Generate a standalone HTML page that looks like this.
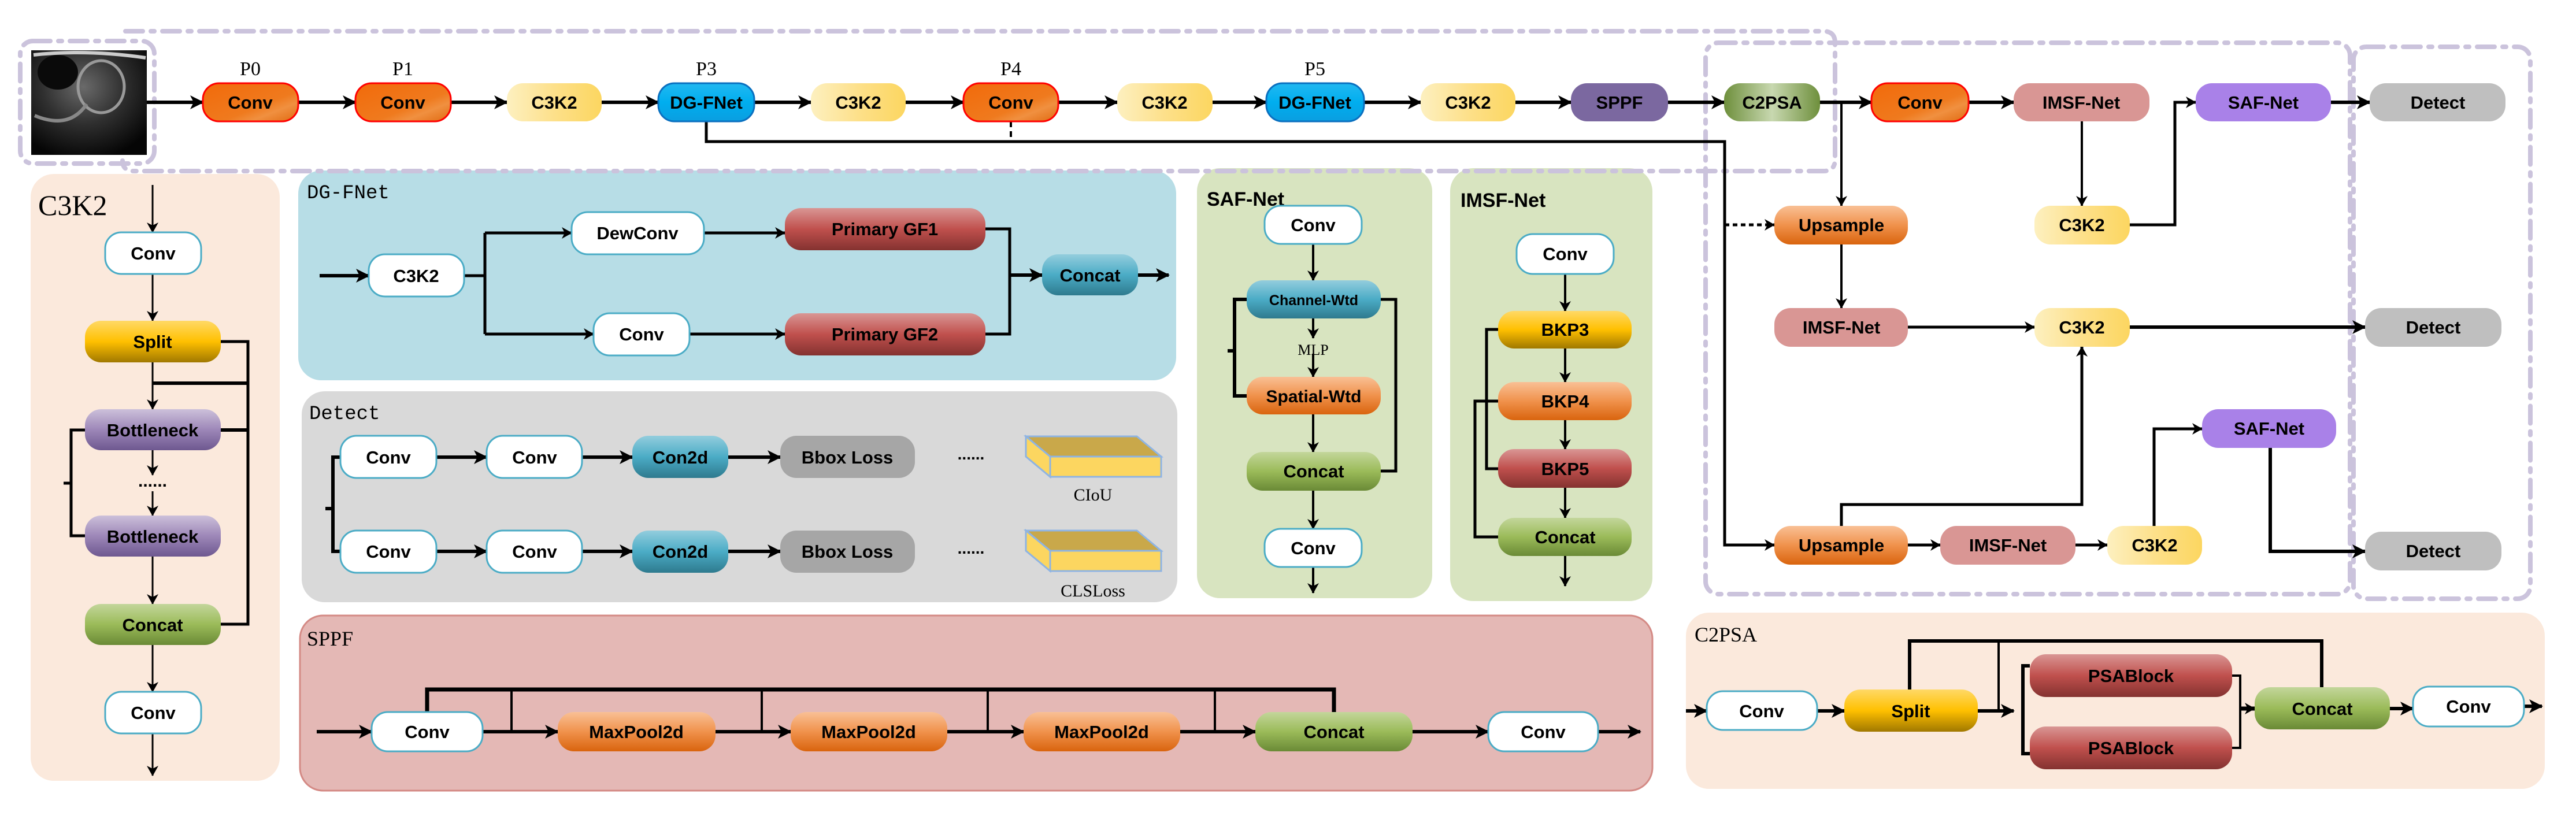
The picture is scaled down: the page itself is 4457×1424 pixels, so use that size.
<!DOCTYPE html>
<html><head><meta charset="utf-8"><style>
html,body{margin:0;padding:0;background:#fff;}
svg{display:block;}
text{font-family:"Liberation Sans",sans-serif;font-weight:bold;font-size:31px;text-anchor:middle;fill:#000;}
.t{font-family:"Liberation Serif",serif;font-weight:normal;font-size:36px;text-anchor:start;}
.m{font-family:"Liberation Mono",monospace;font-weight:normal;font-size:34px;text-anchor:start;}
.p{font-family:"Liberation Serif",serif;font-weight:normal;font-size:34px;}
.l{fill:none;stroke:#000;stroke-width:4;}
.L{fill:none;stroke:#000;stroke-width:7;}
.d{fill:none;stroke:#cbc3dc;stroke-width:8;stroke-dasharray:30 14 6 14;stroke-linecap:round;}
</style></head><body>
<svg width="4457" height="1424" viewBox="0 0 4457 1424" xmlns="http://www.w3.org/2000/svg">
<defs>
<marker id="a" markerWidth="24" markerHeight="24" refX="22" refY="12" orient="auto" markerUnits="userSpaceOnUse"><path d="M0,0 L24,12 L0,24 L6,12z"/></marker>
<marker id="s" markerWidth="18" markerHeight="20" refX="17" refY="10" orient="auto" markerUnits="userSpaceOnUse"><path d="M0,0 L18,10 L0,20 L5,10z"/></marker>
<linearGradient id="gConv" x1="0" y1="0" x2="1" y2="1"><stop offset="0" stop-color="#f26a0a"/><stop offset="0.6" stop-color="#ef7a1e"/><stop offset="0.75" stop-color="#f09040"/><stop offset="1" stop-color="#e06a10"/></linearGradient>
<linearGradient id="gY" x1="0" y1="0" x2="1" y2="0"><stop offset="0" stop-color="#fdf0c0"/><stop offset="0.5" stop-color="#fde08a"/><stop offset="1" stop-color="#fcd660"/></linearGradient>
<linearGradient id="gB" x1="0" y1="0" x2="0" y2="1"><stop offset="0" stop-color="#22b8f0"/><stop offset="0.5" stop-color="#00aeef"/><stop offset="1" stop-color="#0a9ee0"/></linearGradient>
<linearGradient id="gC2" x1="0" y1="0" x2="1" y2="0"><stop offset="0" stop-color="#6e8f3c"/><stop offset="0.5" stop-color="#c8d8b0"/><stop offset="1" stop-color="#6e8f3c"/></linearGradient>
<linearGradient id="gUp" x1="0" y1="0" x2="0" y2="1"><stop offset="0" stop-color="#f9c095"/><stop offset="0.5" stop-color="#f0924c"/><stop offset="1" stop-color="#d9640e"/></linearGradient>
<linearGradient id="gR" x1="0" y1="0" x2="0" y2="1"><stop offset="0" stop-color="#d99694"/><stop offset="0.5" stop-color="#c0504d"/><stop offset="1" stop-color="#843230"/></linearGradient>
<linearGradient id="gG" x1="0" y1="0" x2="0" y2="1"><stop offset="0" stop-color="#c3d69b"/><stop offset="0.5" stop-color="#9bbb59"/><stop offset="1" stop-color="#6a8a36"/></linearGradient>
<linearGradient id="gT" x1="0" y1="0" x2="0" y2="1"><stop offset="0" stop-color="#93cddd"/><stop offset="0.5" stop-color="#4bacc6"/><stop offset="1" stop-color="#2e7a8e"/></linearGradient>
<linearGradient id="gS" x1="0" y1="0" x2="0" y2="1"><stop offset="0" stop-color="#ffd966"/><stop offset="0.5" stop-color="#ffc000"/><stop offset="1" stop-color="#a07800"/></linearGradient>
<linearGradient id="gP" x1="0" y1="0" x2="0" y2="1"><stop offset="0" stop-color="#ccc0da"/><stop offset="0.5" stop-color="#9d87b8"/><stop offset="1" stop-color="#6e5890"/></linearGradient>
<radialGradient id="gImg" cx="0.45" cy="0.35" r="0.7"><stop offset="0" stop-color="#6a6a6a"/><stop offset="0.5" stop-color="#303030"/><stop offset="1" stop-color="#050505"/></radialGradient>
</defs>

<!-- panels -->
<rect x="53" y="301" width="431" height="1050" rx="40" fill="#fbe9dc"/>
<rect x="516" y="295" width="1519" height="363" rx="40" fill="#b7dde6"/>
<rect x="522" y="677" width="1515" height="365" rx="40" fill="#d9d9d9"/>
<rect x="519" y="1065" width="2340" height="303" rx="40" fill="#e4b8b5" stroke="#d48a85" stroke-width="3"/>
<rect x="2071" y="291" width="407" height="744" rx="40" fill="#d8e4c0"/>
<rect x="2509" y="291" width="350" height="749" rx="40" fill="#d8e4c0"/>
<rect x="2917" y="1060" width="1486" height="305" rx="40" fill="#fbe9dc"/>

<!-- dashed boxes -->
<rect x="35" y="71" width="232" height="212" rx="22" class="d"/>
<path d="M217,54 H3155 Q3175,54 3175,74 V276 Q3175,296 3155,296 H232 Q212,296 212,278" class="d"/>
<rect x="2951" y="74" width="1115" height="954" rx="22" class="d"/>
<rect x="4072" y="81" width="306" height="955" rx="22" class="d"/>

<!-- image -->
<rect x="54" y="87" width="200" height="181" fill="url(#gImg)"/>
<ellipse cx="175" cy="150" rx="40" ry="45" fill="none" stroke="#999" stroke-width="5"/>
<ellipse cx="100" cy="125" rx="35" ry="30" fill="#0a0a0a"/>
<path d="M58,95 Q150,85 252,100" stroke="#ccc" stroke-width="6" fill="none"/>
<path d="M60,200 Q120,225 150,180" stroke="#888" stroke-width="6" fill="none"/>

<!-- Labels P -->
<text class="p" x="433" y="130">P0</text>
<text class="p" x="697" y="130">P1</text>
<text class="p" x="1222" y="130">P3</text>
<text class="p" x="1749" y="130">P4</text>
<text class="p" x="2275" y="130">P5</text>

<!-- top row connectors -->
<g class="L" marker-end="url(#a)" style="stroke-width:6">
<line x1="254" y1="177" x2="351" y2="177" marker-end="url(#a)"/>
<line x1="516" y1="177" x2="615" y2="177" marker-end="url(#a)"/>
<line x1="779" y1="177" x2="877" y2="177" marker-end="url(#a)"/>
<line x1="1041" y1="177" x2="1139" y2="177" marker-end="url(#a)"/>
<line x1="1305" y1="177" x2="1403" y2="177" marker-end="url(#a)"/>
<line x1="1567" y1="177" x2="1667" y2="177" marker-end="url(#a)"/>
<line x1="1831" y1="177" x2="1933" y2="177" marker-end="url(#a)"/>
<line x1="2098" y1="177" x2="2191" y2="177" marker-end="url(#a)"/>
<line x1="2360" y1="177" x2="2458" y2="177" marker-end="url(#a)"/>
<line x1="2622" y1="177" x2="2718" y2="177" marker-end="url(#a)"/>
<line x1="2886" y1="177" x2="2983" y2="177" marker-end="url(#a)"/>
<line x1="3149" y1="177" x2="3238" y2="177" marker-end="url(#a)"/>
<line x1="3406" y1="177" x2="3484" y2="177" marker-end="url(#a)"/>
<line x1="4033" y1="177" x2="4100" y2="177" marker-end="url(#a)"/>
</g>
<path d="M1222,210 V245 H2984 V943 H3070" class="l" style="stroke-width:5" marker-end="url(#s)"/>
<line x1="1749" y1="210" x2="1749" y2="245" class="l" style="stroke-dasharray:10 7"/>
<line x1="2984" y1="389" x2="3070" y2="389" class="l" style="stroke-width:5;stroke-dasharray:8 6" marker-end="url(#s)"/>
<path d="M3186,177 V356" class="l" marker-end="url(#s)"/>
<path d="M3602,210 V356" class="l" marker-end="url(#s)"/>
<path d="M3685,389 H3763 V177 H3799" class="l" style="stroke-width:5" marker-end="url(#s)"/>
<path d="M3186,423 V533" class="l" marker-end="url(#s)"/>
<path d="M3301,566 H3520" class="l" style="stroke-width:5" marker-end="url(#s)"/>
<path d="M3685,566 H4092" class="L" style="stroke-width:6" marker-end="url(#a)"/>
<path d="M3186,910 V873 H3602 V600" class="l" style="stroke-width:5" marker-end="url(#s)"/>
<path d="M3301,943 H3357" class="l" style="stroke-width:5" marker-end="url(#s)"/>
<path d="M3591,943 H3646" class="l" style="stroke-width:5" marker-end="url(#s)"/>
<path d="M3727,910 V742 H3810" class="l" style="stroke-width:5" marker-end="url(#s)"/>
<path d="M3928,775 V954 H4092" class="l" style="stroke-width:6" marker-end="url(#a)"/>

<!-- top row nodes -->
<g>
<rect x="351" y="144" width="165" height="66" rx="28" fill="url(#gConv)" stroke="#f00" stroke-width="3"/><text x="433" y="188">Conv</text>
<rect x="615" y="144" width="165" height="66" rx="28" fill="url(#gConv)" stroke="#f00" stroke-width="3"/><text x="697" y="188">Conv</text>
<rect x="877" y="144" width="164" height="66" rx="28" fill="url(#gY)"/><text x="959" y="188">C3K2</text>
<rect x="1139" y="144" width="166" height="66" rx="28" fill="url(#gB)" stroke="#0a70c0" stroke-width="3"/><text x="1222" y="188">DG-FNet</text>
<rect x="1403" y="144" width="164" height="66" rx="28" fill="url(#gY)"/><text x="1485" y="188">C3K2</text>
<rect x="1667" y="144" width="164" height="66" rx="28" fill="url(#gConv)" stroke="#f00" stroke-width="3"/><text x="1749" y="188">Conv</text>
<rect x="1933" y="144" width="165" height="66" rx="28" fill="url(#gY)"/><text x="2015" y="188">C3K2</text>
<rect x="2191" y="144" width="169" height="66" rx="28" fill="url(#gB)" stroke="#0a70c0" stroke-width="3"/><text x="2275" y="188">DG-FNet</text>
<rect x="2458" y="144" width="164" height="66" rx="28" fill="url(#gY)"/><text x="2540" y="188">C3K2</text>
<rect x="2718" y="144" width="168" height="66" rx="28" fill="#7b68a0"/><text x="2802" y="188">SPPF</text>
<rect x="2983" y="144" width="166" height="66" rx="28" fill="url(#gC2)"/><text x="3066" y="188">C2PSA</text>
<rect x="3238" y="144" width="168" height="66" rx="28" fill="url(#gConv)" stroke="#f00" stroke-width="3"/><text x="3322" y="188">Conv</text>
<rect x="3484" y="144" width="235" height="66" rx="28" fill="#d99694"/><text x="3601" y="188">IMSF-Net</text>
<rect x="3799" y="144" width="234" height="66" rx="28" fill="#a981e8"/><text x="3916" y="188">SAF-Net</text>
<rect x="4100" y="144" width="235" height="66" rx="28" fill="#bfbfbf"/><text x="4218" y="188">Detect</text>
<!-- neck -->
<rect x="3070" y="356" width="231" height="67" rx="28" fill="url(#gUp)"/><text x="3186" y="400">Upsample</text>
<rect x="3520" y="356" width="165" height="67" rx="28" fill="url(#gY)"/><text x="3602" y="400">C3K2</text>
<rect x="3070" y="533" width="231" height="67" rx="28" fill="#d99694"/><text x="3186" y="577">IMSF-Net</text>
<rect x="3520" y="533" width="165" height="67" rx="28" fill="url(#gY)"/><text x="3602" y="577">C3K2</text>
<rect x="4092" y="533" width="236" height="67" rx="28" fill="#bfbfbf"/><text x="4210" y="577">Detect</text>
<rect x="3810" y="708" width="232" height="67" rx="28" fill="#a981e8"/><text x="3926" y="752">SAF-Net</text>
<rect x="3070" y="910" width="231" height="67" rx="28" fill="url(#gUp)"/><text x="3186" y="954">Upsample</text>
<rect x="3357" y="910" width="234" height="67" rx="28" fill="#d99694"/><text x="3474" y="954">IMSF-Net</text>
<rect x="3646" y="910" width="164" height="67" rx="28" fill="url(#gY)"/><text x="3728" y="954">C3K2</text>
<rect x="4092" y="920" width="236" height="67" rx="28" fill="#bfbfbf"/><text x="4210" y="964">Detect</text>
</g>

<!-- C3K2 panel -->
<text class="t" x="66" y="372" style="font-size:50px">C3K2</text>
<path d="M264,320 V402" class="l" style="stroke-width:3" marker-end="url(#s)"/>
<path d="M264,474 V555" class="l" style="stroke-width:3" marker-end="url(#s)"/>
<path d="M264,627 V708" class="l" style="stroke-width:3" marker-end="url(#s)"/>
<path d="M264,779 V822" class="l" style="stroke-width:3" marker-end="url(#s)"/>
<path d="M264,850 V892" class="l" style="stroke-width:3" marker-end="url(#s)"/>
<path d="M264,963 V1045" class="l" style="stroke-width:3" marker-end="url(#s)"/>
<path d="M264,1116 V1197" class="l" style="stroke-width:3" marker-end="url(#s)"/>
<path d="M264,1269 V1342" class="l" style="stroke-width:3" marker-end="url(#s)"/>
<path d="M382,591 H429 V1080 H382" class="l" style="stroke-width:5"/>
<path d="M264,663 H429" class="l" style="stroke-width:6"/>
<path d="M382,744 H429" class="l" style="stroke-width:6"/>
<path d="M147,744 H123 V927 H147 M123,836 H110" class="l" style="stroke-width:5"/>
<text x="264" y="842" style="font-size:30px">......</text>
<rect x="182" y="402" width="166" height="72" rx="28" fill="#fff" stroke="#4bacc6" stroke-width="3"/><text x="265" y="449">Conv</text>
<rect x="147" y="555" width="235" height="72" rx="28" fill="url(#gS)"/><text x="264" y="602">Split</text>
<rect x="147" y="708" width="235" height="71" rx="28" fill="url(#gP)"/><text x="264" y="755">Bottleneck</text>
<rect x="147" y="892" width="235" height="71" rx="28" fill="url(#gP)"/><text x="264" y="939">Bottleneck</text>
<rect x="147" y="1045" width="235" height="71" rx="28" fill="url(#gG)"/><text x="264" y="1092">Concat</text>
<rect x="182" y="1197" width="166" height="72" rx="28" fill="#fff" stroke="#4bacc6" stroke-width="3"/><text x="265" y="1244">Conv</text>

<!-- DG-FNet panel -->
<text class="m" x="531" y="343">DG-FNet</text>
<path d="M553,477 H638" class="L" style="stroke-width:6" marker-end="url(#a)"/>
<path d="M803,477 H839 M839,403 V578" class="l" style="stroke-width:5"/>
<path d="M839,403 H989" class="l" style="stroke-width:5" marker-end="url(#s)"/>
<path d="M839,578 H1027" class="l" style="stroke-width:5" marker-end="url(#s)"/>
<path d="M1218,403 H1358" class="l" style="stroke-width:5" marker-end="url(#s)"/>
<path d="M1193,578 H1358" class="l" style="stroke-width:5" marker-end="url(#s)"/>
<path d="M1705,396 H1747 V578 H1705" class="l" style="stroke-width:5"/>
<path d="M1747,476 H1803" class="L" style="stroke-width:6" marker-end="url(#a)"/>
<path d="M1969,476 H2022" class="L" style="stroke-width:6" marker-end="url(#a)"/>
<rect x="638" y="440" width="165" height="73" rx="28" fill="#fff" stroke="#4bacc6" stroke-width="3"/><text x="720" y="488">C3K2</text>
<rect x="989" y="367" width="229" height="73" rx="28" fill="#fff" stroke="#4bacc6" stroke-width="3"/><text x="1103" y="414">DewConv</text>
<rect x="1358" y="360" width="347" height="73" rx="28" fill="url(#gR)"/><text x="1531" y="407">Primary GF1</text>
<rect x="1027" y="542" width="166" height="73" rx="28" fill="#fff" stroke="#4bacc6" stroke-width="3"/><text x="1110" y="589">Conv</text>
<rect x="1358" y="542" width="347" height="73" rx="28" fill="url(#gR)"/><text x="1531" y="589">Primary GF2</text>
<rect x="1803" y="440" width="166" height="71" rx="28" fill="url(#gT)"/><text x="1886" y="487">Concat</text>

<!-- Detect panel -->
<text class="m" x="535" y="725">Detect</text>
<path d="M589,791 H576 V954 H589 M576,880 H563" class="l" style="stroke-width:6"/>
<g class="L" style="stroke-width:6">
<line x1="755" y1="791" x2="842" y2="791" marker-end="url(#a)"/>
<line x1="1007" y1="791" x2="1094" y2="791" marker-end="url(#a)"/>
<line x1="1260" y1="791" x2="1350" y2="791" marker-end="url(#a)"/>
<line x1="755" y1="954" x2="842" y2="954" marker-end="url(#a)"/>
<line x1="1007" y1="954" x2="1094" y2="954" marker-end="url(#a)"/>
<line x1="1260" y1="954" x2="1350" y2="954" marker-end="url(#a)"/>
</g>
<rect x="589" y="754" width="166" height="73" rx="28" fill="#fff" stroke="#4bacc6" stroke-width="3"/><text x="672" y="802">Conv</text>
<rect x="842" y="754" width="165" height="73" rx="28" fill="#fff" stroke="#4bacc6" stroke-width="3"/><text x="925" y="802">Conv</text>
<rect x="1094" y="754" width="166" height="73" rx="28" fill="url(#gT)"/><text x="1177" y="802">Con2d</text>
<rect x="1350" y="754" width="233" height="73" rx="28" fill="#a6a6a6"/><text x="1466" y="802">Bbox Loss</text>
<rect x="589" y="918" width="166" height="73" rx="28" fill="#fff" stroke="#4bacc6" stroke-width="3"/><text x="672" y="965">Conv</text>
<rect x="842" y="918" width="165" height="73" rx="28" fill="#fff" stroke="#4bacc6" stroke-width="3"/><text x="925" y="965">Conv</text>
<rect x="1094" y="918" width="166" height="73" rx="28" fill="url(#gT)"/><text x="1177" y="965">Con2d</text>
<rect x="1350" y="918" width="233" height="73" rx="28" fill="#a6a6a6"/><text x="1466" y="965">Bbox Loss</text>
<text x="1680" y="795" style="font-size:28px">......</text>
<text x="1680" y="958" style="font-size:28px">......</text>
<g stroke="#8eb4e3" stroke-width="3">
<polygon points="1775,755 1967,755 2009,790 1817,790" fill="#c9a84a"/>
<polygon points="1775,755 1817,790 1817,825 1775,790" fill="#fcd660"/>
<rect x="1817" y="790" width="192" height="35" fill="#fcd660"/>
<polygon points="1775,918 1967,918 2009,953 1817,953" fill="#c9a84a"/>
<polygon points="1775,918 1817,953 1817,988 1775,953" fill="#fcd660"/>
<rect x="1817" y="953" width="192" height="35" fill="#fcd660"/>
</g>
<text class="p" x="1891" y="866" style="font-size:30px">CIoU</text>
<text class="p" x="1891" y="1032" style="font-size:30px">CLSLoss</text>

<!-- SPPF panel -->
<text class="t" x="531" y="1117">SPPF</text>
<path d="M739,1232 V1193 H2308 V1232" class="L"/>
<path d="M885,1193 V1266 M1318,1193 V1266 M1709,1193 V1266 M2102,1193 V1266" class="l"/>
<g class="L" style="stroke-width:6">
<line x1="548" y1="1266" x2="643" y2="1266" marker-end="url(#a)"/>
<line x1="835" y1="1266" x2="965" y2="1266" marker-end="url(#a)"/>
<line x1="1238" y1="1266" x2="1368" y2="1266" marker-end="url(#a)"/>
<line x1="1639" y1="1266" x2="1771" y2="1266" marker-end="url(#a)"/>
<line x1="2042" y1="1266" x2="2172" y2="1266" marker-end="url(#a)"/>
<line x1="2444" y1="1266" x2="2575" y2="1266" marker-end="url(#a)"/>
<line x1="2765" y1="1266" x2="2838" y2="1266" marker-end="url(#a)"/>
</g>
<rect x="643" y="1232" width="192" height="68" rx="28" fill="#fff" stroke="#4bacc6" stroke-width="3"/><text x="739" y="1277">Conv</text>
<rect x="965" y="1232" width="273" height="68" rx="28" fill="url(#gUp)"/><text x="1101" y="1277">MaxPool2d</text>
<rect x="1368" y="1232" width="271" height="68" rx="28" fill="url(#gUp)"/><text x="1503" y="1277">MaxPool2d</text>
<rect x="1771" y="1232" width="271" height="68" rx="28" fill="url(#gUp)"/><text x="1906" y="1277">MaxPool2d</text>
<rect x="2172" y="1232" width="272" height="68" rx="28" fill="url(#gG)"/><text x="2308" y="1277">Concat</text>
<rect x="2575" y="1232" width="190" height="68" rx="28" fill="#fff" stroke="#4bacc6" stroke-width="3"/><text x="2670" y="1277">Conv</text>

<!-- SAF-Net panel -->
<text x="2088" y="356" style="text-anchor:start;font-size:34px">SAF-Net</text>
<path d="M2272,422 V485" class="l" marker-end="url(#s)"/>
<path d="M2272,551 V585" class="l" marker-end="url(#s)"/>
<path d="M2272,612 V652" class="l" marker-end="url(#s)"/>
<path d="M2272,717 V782" class="l" marker-end="url(#s)"/>
<path d="M2272,849 V915" class="l" marker-end="url(#s)"/>
<path d="M2272,981 V1026" class="l" marker-end="url(#s)"/>
<path d="M2389,518 H2415 V815 H2389" class="l" style="stroke-width:5"/>
<path d="M2157,518 H2136 V685 H2157 M2136,607 H2124" class="l" style="stroke-width:6"/>
<text class="p" x="2272" y="614" style="font-size:26px">MLP</text>
<rect x="2188" y="356" width="168" height="66" rx="28" fill="#fff" stroke="#4bacc6" stroke-width="3"/><text x="2272" y="400">Conv</text>
<rect x="2157" y="485" width="232" height="66" rx="28" fill="url(#gT)"/><text x="2273" y="528" style="font-size:25px">Channel-Wtd</text>
<rect x="2157" y="652" width="232" height="65" rx="28" fill="url(#gUp)"/><text x="2273" y="696" style="font-size:30px">Spatial-Wtd</text>
<rect x="2157" y="782" width="232" height="67" rx="28" fill="url(#gG)"/><text x="2273" y="826">Concat</text>
<rect x="2188" y="915" width="168" height="66" rx="28" fill="#fff" stroke="#4bacc6" stroke-width="3"/><text x="2272" y="959">Conv</text>

<!-- IMSF-Net panel -->
<text x="2527" y="358" style="text-anchor:start;font-size:34px">IMSF-Net</text>
<path d="M2708,474 V538" class="l" marker-end="url(#s)"/>
<path d="M2708,603 V661" class="l" marker-end="url(#s)"/>
<path d="M2708,727 V777" class="l" marker-end="url(#s)"/>
<path d="M2708,844 V896" class="l" marker-end="url(#s)"/>
<path d="M2708,962 V1014" class="l" marker-end="url(#s)"/>
<path d="M2592,570 H2572 V811 H2592" class="l" style="stroke-width:5"/>
<path d="M2592,694 H2552 V929 H2592" class="l" style="stroke-width:5"/>
<rect x="2624" y="405" width="168" height="69" rx="28" fill="#fff" stroke="#4bacc6" stroke-width="3"/><text x="2708" y="450">Conv</text>
<rect x="2592" y="538" width="231" height="65" rx="28" fill="url(#gS)"/><text x="2708" y="581">BKP3</text>
<rect x="2592" y="661" width="231" height="66" rx="28" fill="url(#gUp)"/><text x="2708" y="705">BKP4</text>
<rect x="2592" y="777" width="231" height="67" rx="28" fill="url(#gR)"/><text x="2708" y="822">BKP5</text>
<rect x="2592" y="896" width="231" height="66" rx="28" fill="url(#gG)"/><text x="2708" y="940">Concat</text>

<!-- C2PSA panel -->
<text class="t" x="2932" y="1110">C2PSA</text>
<path d="M3304,1193 V1109 H4017 V1189" class="L" style="stroke-width:6"/>
<path d="M3458,1109 V1230" class="l"/>
<g class="L" style="stroke-width:6">
<line x1="2917" y1="1230" x2="2953" y2="1230" marker-end="url(#a)"/>
<line x1="3144" y1="1230" x2="3191" y2="1230" marker-end="url(#a)"/>
<line x1="3422" y1="1230" x2="3484" y2="1230" marker-end="url(#a)"/>
<line x1="4135" y1="1226" x2="4175" y2="1226" marker-end="url(#a)"/>
<line x1="4367" y1="1222" x2="4398" y2="1222" marker-end="url(#a)"/>
</g>
<path d="M3512,1152 H3500 V1304 H3512" class="l" style="stroke-width:6"/>
<path d="M3862,1169 H3876 V1294 H3862" class="l" style="stroke-width:4"/>
<path d="M3876,1226 H3901" class="L" marker-end="url(#s)"/>
<rect x="2953" y="1196" width="191" height="67" rx="28" fill="#fff" stroke="#4bacc6" stroke-width="3"/><text x="3048" y="1241">Conv</text>
<rect x="3191" y="1193" width="231" height="73" rx="28" fill="url(#gS)"/><text x="3306" y="1241">Split</text>
<rect x="3512" y="1132" width="350" height="74" rx="28" fill="url(#gR)"/><text x="3687" y="1180">PSABlock</text>
<rect x="3512" y="1257" width="350" height="74" rx="28" fill="url(#gR)"/><text x="3687" y="1305">PSABlock</text>
<rect x="3901" y="1189" width="234" height="73" rx="28" fill="url(#gG)"/><text x="4018" y="1237">Concat</text>
<rect x="4175" y="1188" width="192" height="69" rx="28" fill="#fff" stroke="#4bacc6" stroke-width="3"/><text x="4271" y="1233">Conv</text>
</svg>
</body></html>
